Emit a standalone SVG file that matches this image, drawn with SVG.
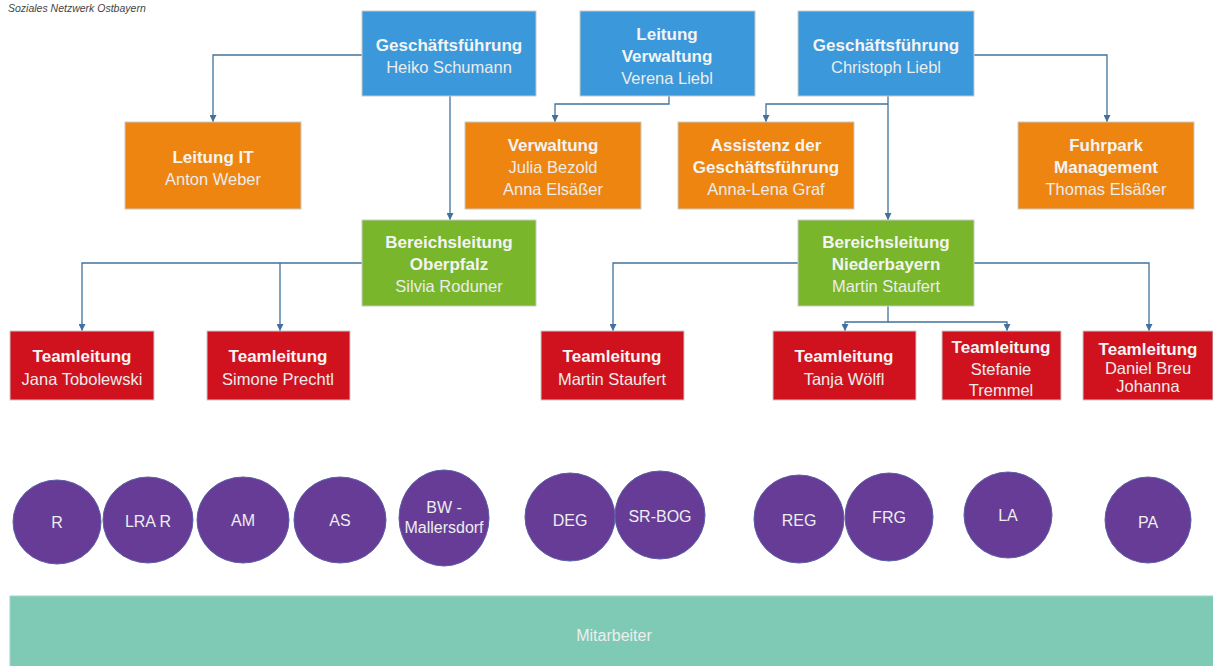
<svg xmlns="http://www.w3.org/2000/svg" width="1213" height="666" viewBox="0 0 1213 666">
<defs>
<style>
.box{stroke:#c9c9c9;stroke-width:1}
.blue{fill:#3b98da}.orange{fill:#ee8510}.green{fill:#79b62c}.red{fill:#d0121f}.purple{fill:#663c97;stroke:#5a5fa8;stroke-width:1}
.t{font-family:"Liberation Sans",Arial,sans-serif;font-size:17px;font-weight:bold;fill:#f4f4f4;text-anchor:middle}
.n{font-family:"Liberation Sans",Arial,sans-serif;font-size:16.5px;fill:#ececec;text-anchor:middle}
.c{font-family:"Liberation Sans",Arial,sans-serif;font-size:16px;fill:#eeeeee;text-anchor:middle}
.con{fill:none;stroke:#41719c;stroke-width:1.3}
</style>
<marker id="ah" viewBox="0 0 8 8" refX="8" refY="4" markerWidth="7" markerHeight="7" markerUnits="userSpaceOnUse" orient="auto">
<path d="M0,0 L8,4 L0,8 z" fill="#41719c"/>
</marker>
</defs>
<rect width="1213" height="666" fill="#ffffff"/>
<text x="8" y="12" font-family="Liberation Sans, Arial, sans-serif" font-size="10.5" font-style="italic" fill="#444">Soziales Netzwerk Ostbayern</text>

<g id="connectors">
<path class="con" d="M362,55 H213 V122" marker-end="url(#ah)"/>
<path class="con" d="M450,96 V220" marker-end="url(#ah)"/>
<path class="con" d="M669,96 V104 H555 V122" marker-end="url(#ah)"/>
<path class="con" d="M888,104 H766 V122" marker-end="url(#ah)"/>
<path class="con" d="M888,96 V220" marker-end="url(#ah)"/>
<path class="con" d="M974,55 H1107 V122" marker-end="url(#ah)"/>
<path class="con" d="M362,263 H82 V331" marker-end="url(#ah)"/>
<path class="con" d="M280,263 V331" marker-end="url(#ah)"/>
<path class="con" d="M798,263 H613 V331" marker-end="url(#ah)"/>
<path class="con" d="M974,263 H1149 V331" marker-end="url(#ah)"/>
<path class="con" d="M888,306 V322 H845 V331" marker-end="url(#ah)"/>
<path class="con" d="M888,322 H1007 V331" marker-end="url(#ah)"/>
</g>

<g id="gf-schumann"><rect class="box blue" x="362" y="11" width="174" height="85"/>
<text class="t" x="449" y="51">Geschäftsführung</text><text class="n" x="449" y="73">Heiko Schumann</text></g>
<g id="leitung-verwaltung"><rect class="box blue" x="580" y="11" width="175" height="85"/>
<text class="t" x="667" y="40">Leitung</text><text class="t" x="667" y="62">Verwaltung</text><text class="n" x="667" y="84">Verena Liebl</text></g>
<g id="gf-liebl"><rect class="box blue" x="798" y="11" width="176" height="85"/>
<text class="t" x="886" y="51">Geschäftsführung</text><text class="n" x="886" y="73">Christoph Liebl</text></g>

<g id="leitung-it"><rect class="box orange" x="125" y="122" width="176" height="87"/>
<text class="t" x="213" y="163">Leitung IT</text><text class="n" x="213" y="185">Anton Weber</text></g>
<g id="verwaltung"><rect class="box orange" x="465" y="122" width="176" height="87"/>
<text class="t" x="553" y="151">Verwaltung</text><text class="n" x="553" y="173">Julia Bezold</text><text class="n" x="553" y="195">Anna Elsäßer</text></g>
<g id="assistenz"><rect class="box orange" x="678" y="122" width="176" height="87"/>
<text class="t" x="766" y="151">Assistenz der</text><text class="t" x="766" y="173">Geschäftsführung</text><text class="n" x="766" y="195">Anna-Lena Graf</text></g>
<g id="fuhrpark"><rect class="box orange" x="1018" y="122" width="176" height="87"/>
<text class="t" x="1106" y="151">Fuhrpark</text><text class="t" x="1106" y="173">Management</text><text class="n" x="1106" y="195">Thomas Elsäßer</text></g>

<g id="bl-oberpfalz"><rect class="box green" x="362" y="220" width="174" height="86"/>
<text class="t" x="449" y="248">Bereichsleitung</text><text class="t" x="449" y="270">Oberpfalz</text><text class="n" x="449" y="292">Silvia Roduner</text></g>
<g id="bl-niederbayern"><rect class="box green" x="798" y="220" width="176" height="86"/>
<text class="t" x="886" y="248">Bereichsleitung</text><text class="t" x="886" y="270">Niederbayern</text><text class="n" x="886" y="292">Martin Staufert</text></g>

<g id="tl-tobolewski"><rect class="box red" x="10" y="331" width="144" height="69"/>
<text class="t" x="82" y="362">Teamleitung</text><text class="n" x="82" y="385">Jana Tobolewski</text></g>
<g id="tl-prechtl"><rect class="box red" x="207" y="331" width="143" height="69"/>
<text class="t" x="278" y="362">Teamleitung</text><text class="n" x="278" y="385">Simone Prechtl</text></g>
<g id="tl-staufert"><rect class="box red" x="541" y="331" width="143" height="69"/>
<text class="t" x="612" y="362">Teamleitung</text><text class="n" x="612" y="385">Martin Staufert</text></g>
<g id="tl-woelfl"><rect class="box red" x="773" y="331" width="143" height="69"/>
<text class="t" x="844" y="362">Teamleitung</text><text class="n" x="844" y="385">Tanja Wölfl</text></g>
<g id="tl-tremmel"><rect class="box red" x="942" y="331" width="119" height="69"/>
<text class="t" x="1001" y="353">Teamleitung</text><text class="n" x="1001" y="375">Stefanie</text><text class="n" x="1001" y="396">Tremmel</text></g>
<g id="tl-breu"><rect class="box red" x="1083" y="331" width="130" height="69"/>
<text class="t" x="1148" y="355">Teamleitung</text><text class="n" x="1148" y="374" font-size="13.5">Daniel Breu</text><text class="n" x="1148" y="392" font-size="13.5">Johanna</text></g>

<g id="c-r"><ellipse class="purple" cx="57" cy="522" rx="44" ry="42"/><text class="c" x="57" y="528">R</text></g>
<g id="c-lrar"><ellipse class="purple" cx="148" cy="520" rx="45" ry="43"/><text class="c" x="148" y="527">LRA R</text></g>
<g id="c-am"><ellipse class="purple" cx="243" cy="520" rx="46" ry="43"/><text class="c" x="243" y="526">AM</text></g>
<g id="c-as"><ellipse class="purple" cx="340" cy="520" rx="46" ry="43"/><text class="c" x="340" y="526">AS</text></g>
<g id="c-bw"><ellipse class="purple" cx="444" cy="518" rx="45" ry="48"/><text class="c" x="444" y="513" font-size="15">BW -</text><text class="c" x="444" y="533" font-size="15">Mallersdorf</text></g>
<g id="c-deg"><ellipse class="purple" cx="570" cy="517" rx="45" ry="44"/><text class="c" x="570" y="526">DEG</text></g>
<g id="c-srbog"><ellipse class="purple" cx="660" cy="515" rx="45" ry="44"/><text class="c" x="660" y="522">SR-BOG</text></g>
<g id="c-reg"><ellipse class="purple" cx="799" cy="519" rx="45" ry="44"/><text class="c" x="799" y="526">REG</text></g>
<g id="c-frg"><ellipse class="purple" cx="889" cy="517" rx="44" ry="44"/><text class="c" x="889" y="523">FRG</text></g>
<g id="c-la"><ellipse class="purple" cx="1008" cy="515" rx="44" ry="43"/><text class="c" x="1008" y="521">LA</text></g>
<g id="c-pa"><ellipse class="purple" cx="1148" cy="520" rx="43" ry="43"/><text class="c" x="1148" y="528">PA</text></g>

<g id="mitarbeiter"><rect x="10" y="596" width="1210" height="75" fill="#7ecab4" stroke="#9ed8c8" stroke-width="1"/>
<text class="c" x="614" y="641" font-size="15">Mitarbeiter</text></g>
</svg>
